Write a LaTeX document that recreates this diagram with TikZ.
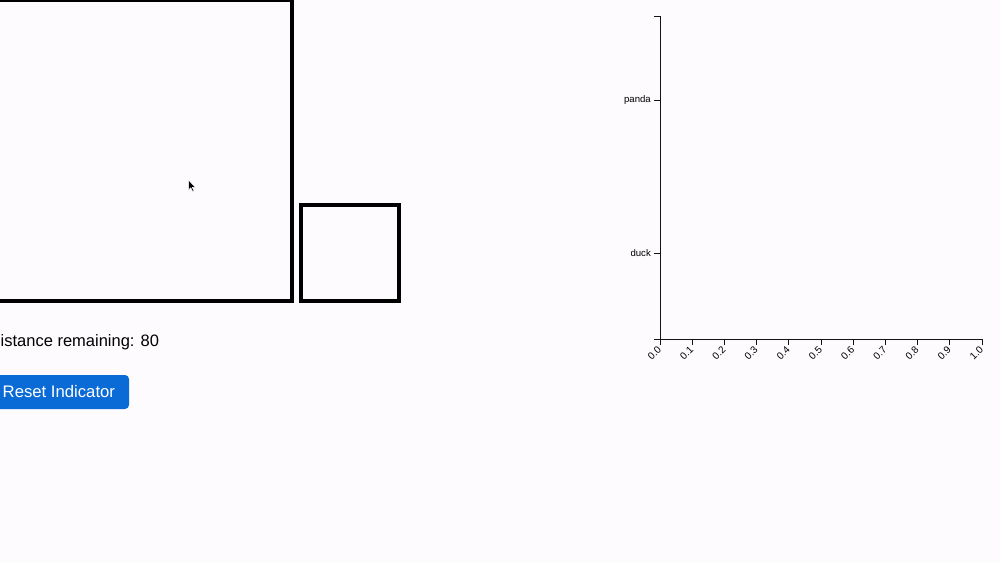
\documentclass[tikz,border=0pt]{standalone}
\usepackage{fontspec}
\setmainfont{Liberation Sans}
\definecolor{bgc}{RGB}{253,251,254}
\definecolor{btnblue}{RGB}{11,107,214}
\definecolor{axisc}{RGB}{20,20,20}
\tikzset{
  frame/.style={draw=black,line width=4pt},
  axisline/.style={draw=axisc,line width=1pt},
  xlab/.style={font=\fontsize{10}{11}\selectfont,rotate=45,anchor=east,inner sep=0pt},
  ylab/.style={font=\fontsize{9.6}{11}\selectfont,anchor=east,inner sep=0pt},
}
\begin{document}
\begin{tikzpicture}[x=1pt,y=-1pt]
\useasboundingbox (0,0) rectangle (1000,563);
\fill[bgc] (0,0) rectangle (1000,563);
\begin{scope}
\clip (0,0) rectangle (1000,563);
% big square
\draw[frame] (-10,0) rectangle (291.5,301);
% small square
\draw[frame] (301,204.5) rectangle (399,301);
% button
\fill[btnblue,rounded corners=4pt] (-10,375) rectangle (129,409);
\end{scope}
\node[anchor=base west,inner sep=0pt,font=\fontsize{16.5}{18}\selectfont] (dist) at (0.5,346) {istance remaining: 80};
\node[anchor=base west,inner sep=0pt,text=white,font=\fontsize{16.7}{18}\selectfont] (reset) at (2.5,397.5) {Reset Indicator};
% cursor
\draw[fill=black,draw=white,line width=0.5pt,line join=miter] (188.5,180) -- (188.5,190) -- (190.8,187.8) -- (192.6,191.5) -- (194,190.9) -- (192.3,187.3) -- (195.3,187.3) -- cycle;
% y axis
\coordinate (ytop) at (660,16);
\coordinate (yorig) at (660,339);
\coordinate (xend) at (982,339);
\draw[axisline] (654,16) -- (ytop) -- (yorig) -- (654,339);
\draw[axisline] (660,345) -- (yorig) -- (xend) -- (982,345);
\foreach \i in {1,...,9} {
  \draw[axisline] (660+\i*32.2,339) -- (660+\i*32.2,345);
}
\foreach \i/\l in {0/0.0,1/0.1,2/0.2,3/0.3,4/0.4,5/0.5,6/0.6,7/0.7,8/0.8,9/0.9,10/1.0} {
  \node[xlab] (xl\i) at (660+\i*32.2-0.5,348) {\l};
}
\draw[axisline] (654,100) -- (660,100);
\draw[axisline] (654,253) -- (660,253);
\node[ylab] (panda) at (651,100) {panda};
\node[ylab] (duck) at (651,253) {duck};
\end{tikzpicture}
\end{document}
